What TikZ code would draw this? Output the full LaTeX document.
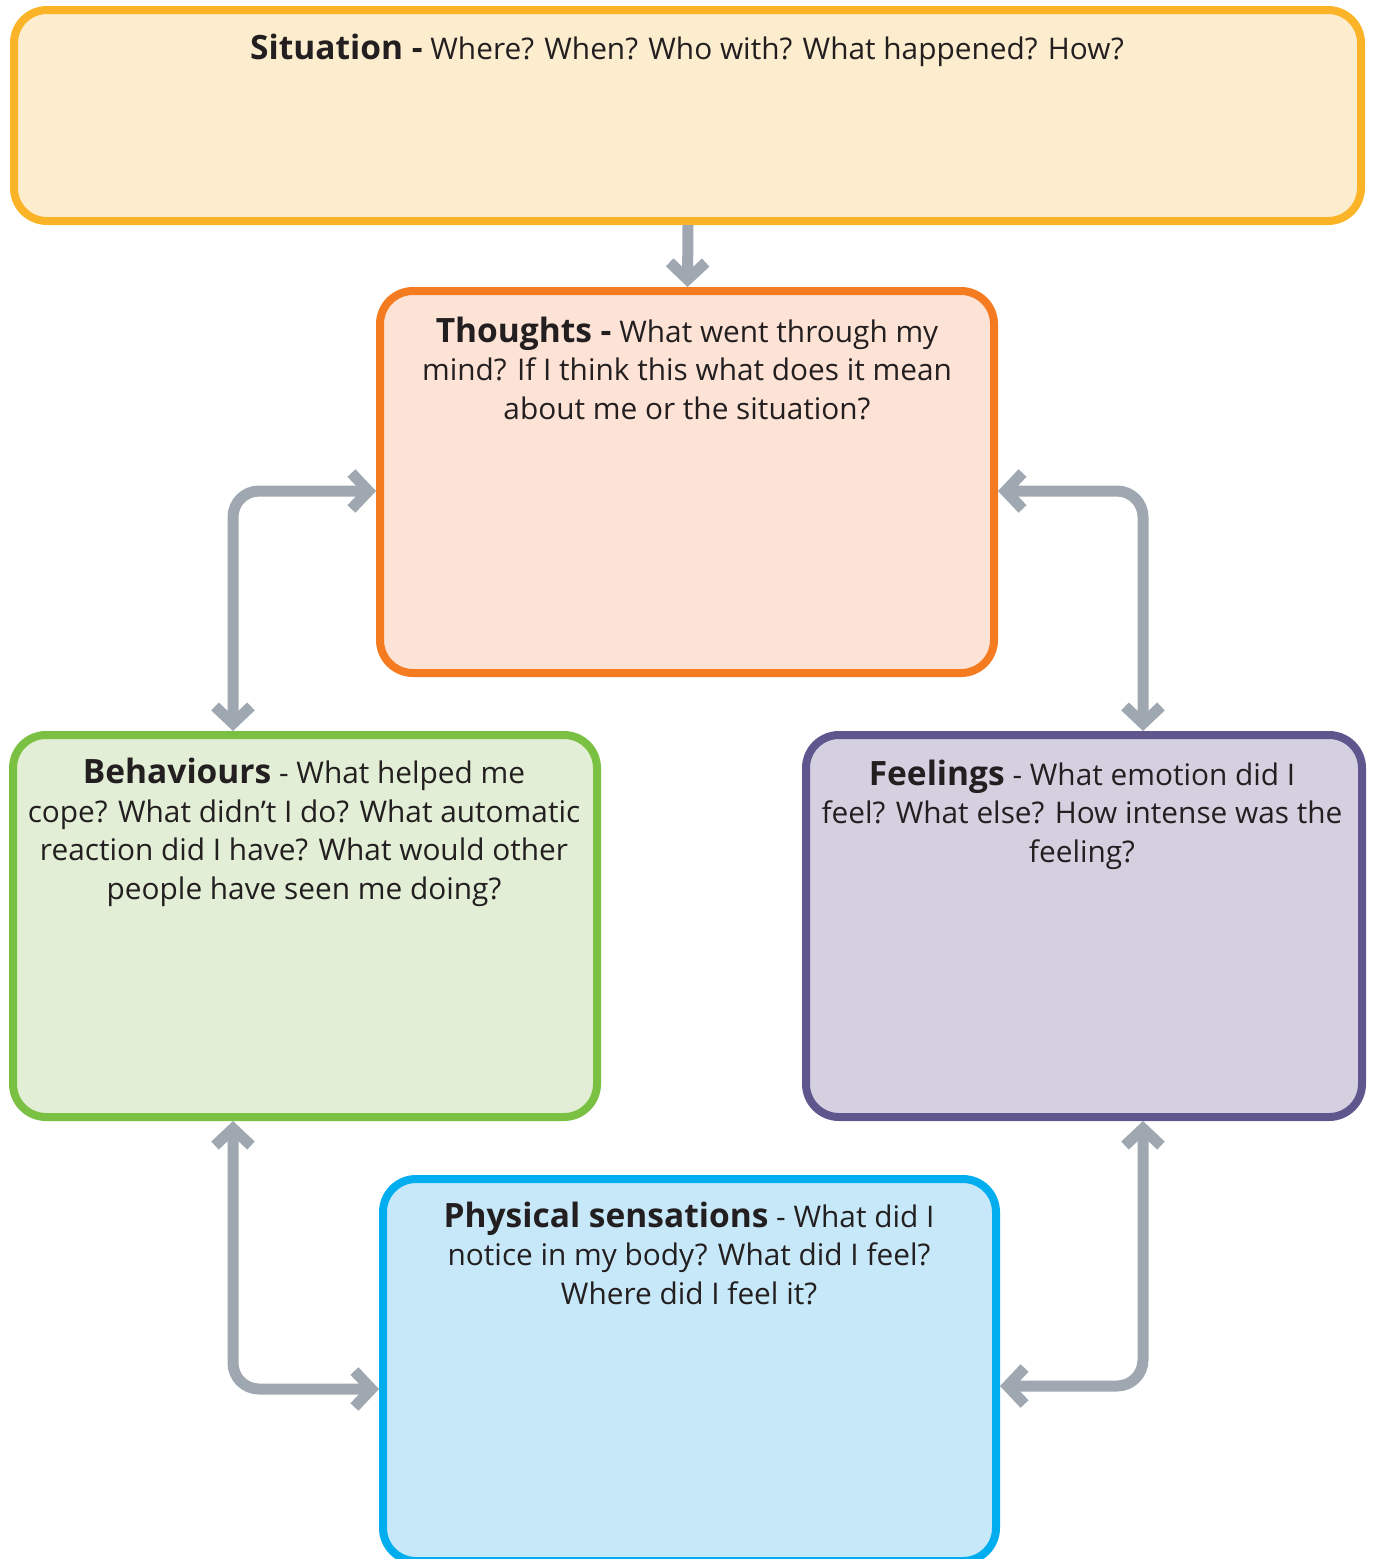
\documentclass[tikz,border=0pt]{standalone}
\usepackage{fontspec}
\setmainfont{Open Sans}
\usetikzlibrary{arrows.meta}
\definecolor{txt}{RGB}{35,31,32}
\definecolor{arrgray}{RGB}{159,168,177}
\definecolor{sitS}{RGB}{251,180,39}\definecolor{sitF}{RGB}{253,237,207}
\definecolor{thoS}{RGB}{244,123,32}\definecolor{thoF}{RGB}{253,227,213}
\definecolor{behS}{RGB}{122,193,67}\definecolor{behF}{RGB}{226,238,213}
\definecolor{feeS}{RGB}{94,86,140}\definecolor{feeF}{RGB}{212,208,224}
\definecolor{phyS}{RGB}{0,174,239}\definecolor{phyF}{RGB}{199,232,248}
\newcommand{\headtxt}[1]{{\fontsize{33.5}{38.5}\selectfont\bfseries #1}}
\tikzset{
  box/.style={draw, rectangle, rounded corners=33pt, line width=8pt, inner sep=0pt},
  lbl/.style={anchor=base, align=center, inner sep=0pt, text=txt,
    font=\fontsize{29.8}{38.5}\selectfont},
  arr/.style={draw=arrgray, line width=11pt, rounded corners=26pt},
  tip/.style={-{Straight Barb[length=17pt,width=36pt]}},
  tips/.style={{Straight Barb[length=17pt,width=36pt]}-{Straight Barb[length=17pt,width=36pt]}}
}
\begin{document}
\begin{tikzpicture}[x=1pt,y=-1pt]
\useasboundingbox (0,0) rectangle (1373,1559);
% boxes
\node[box, draw=sitS, fill=sitF, minimum width=1347pt, minimum height=211pt] (sit) at (687.5,115.5) {};
\node[box, draw=thoS, fill=thoF, minimum width=614pt, minimum height=382pt] (tho) at (687,482) {};
\node[box, draw=behS, fill=behF, minimum width=584pt, minimum height=382pt] (beh) at (305,926) {};
\node[box, draw=feeS, fill=feeF, minimum width=556pt, minimum height=382pt] (fee) at (1084,926) {};
\node[box, draw=phyS, fill=phyF, minimum width=613pt, minimum height=382pt] (phy) at (689.5,1370) {};
% texts (base anchor = baseline of last line)
\node[lbl] (sitT) at (687,59) {\headtxt{Situation -} Where? When? Who with? What happened? How?};
\node[lbl] (thoT) at (687,419) {\headtxt{Thoughts -} What went through my\\mind? If I think this what does it mean\\about me or the situation?};
\node[lbl] (behT) at (304,899) {\headtxt{Behaviours} - What helped me\\cope? What didn’t I do? What automatic\\reaction did I have? What would other\\people have seen me doing?};
\node[lbl] (feeT) at (1082,862) {\headtxt{Feelings} - What emotion did I\\feel? What else? How intense was the\\feeling?};
\node[lbl] (phyT) at (689,1304) {\headtxt{Physical sensations} - What did I\\notice in my body? What did I feel?\\Where did I feel it?};
% arrows
\draw[arr, tip] ([xshift=0.5pt]sit.south) -- ([xshift=0.5pt]tho.north);
\draw[arr, tips] ([xshift=224pt]beh.north west) |- ([yshift=-9pt]tho.west);
\draw[arr, tips] ([xshift=-223pt]fee.north east) |- ([yshift=-9pt]tho.east);
\draw[arr, tips] ([xshift=224pt]beh.south west) |- ([yshift=-19pt]phy.west);
\draw[arr, tips] ([xshift=-223pt]fee.south east) |- ([yshift=-16pt]phy.east);
\end{tikzpicture}
\end{document}
